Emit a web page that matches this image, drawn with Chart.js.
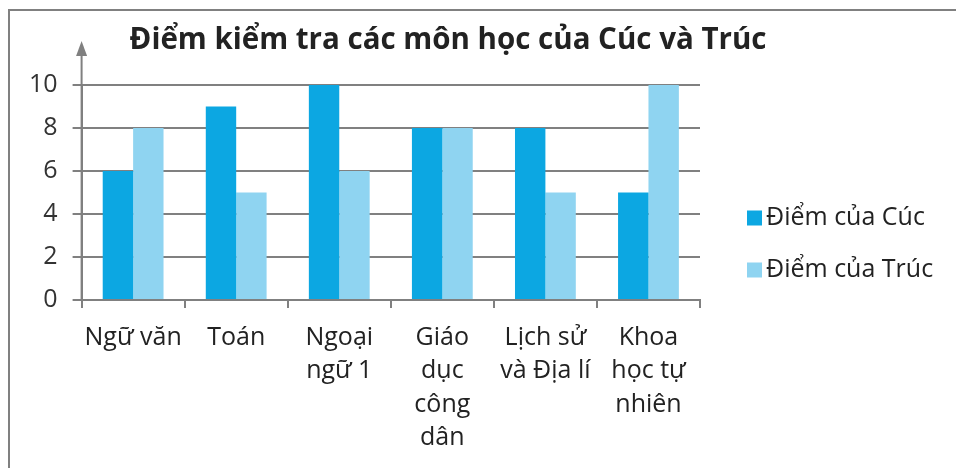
<!DOCTYPE html>
<html>
<head>
<meta charset="utf-8">
<script src="https://cdn.jsdelivr.net/npm/chart.js@4.4.1/dist/chart.umd.min.js"></script>
<style>
  html, body { margin: 0; padding: 0; background: #fff; }
  #wrap { width: 956px; height: 468px; position: relative; }
</style>
</head>
<body>
<div id="wrap"><canvas id="chart" width="956" height="468"></canvas></div>
<script>
const subjects = [
    ['Ngữ văn'],
    ['Toán'],
    ['Ngoại', 'ngữ 1'],
    ['Giáo', 'dục', 'công', 'dân'],
    ['Lịch sử', 'và Địa lí'],
    ['Khoa', 'học tự', 'nhiên']
];
const cucScores = [6, 9, 10, 8, 8, 5];
const trucScores = [8, 5, 6, 8, 5, 10];
const yTicks = [0, 2, 4, 6, 8, 10];
const chartTitle = 'Điểm kiểm tra các môn học của Cúc và Trúc';

const axisGray = '#808080';
const fontFamily = "'Open Sans', 'Noto Sans', sans-serif";

// frame, y-axis arrow, title and legend
const decorPlugin = {
    id: 'decor',
    beforeDraw(chart) {
        const ctx = chart.ctx;
        ctx.save();
        ctx.strokeStyle = axisGray;
        ctx.lineWidth = 2;
        ctx.beginPath();
        ctx.moveTo(9, chart.height);
        ctx.lineTo(9, 10);
        ctx.lineTo(chart.width, 10);
        ctx.stroke();
        ctx.restore();
    },
    afterDraw(chart) {
        const ctx = chart.ctx;
        const y = chart.scales.y;
        const x = y.right;
        ctx.save();
        ctx.strokeStyle = axisGray;
        ctx.fillStyle = axisGray;
        ctx.lineWidth = 2;
        ctx.beginPath();
        ctx.moveTo(x, y.bottom);
        ctx.lineTo(x, 52);
        ctx.stroke();
        ctx.beginPath();
        ctx.moveTo(x, 41);
        ctx.lineTo(x - 5.5, 56);
        ctx.lineTo(x + 5.5, 56);
        ctx.closePath();
        ctx.fill();

        // title
        ctx.fillStyle = '#222';
        ctx.font = 'bold 29.5px ' + fontFamily;
        ctx.textAlign = 'center';
        ctx.textBaseline = 'alphabetic';
        ctx.fillText(chartTitle, 448, 49);

        // legend
        ctx.font = '25px ' + fontFamily;
        ctx.textAlign = 'left';
        ctx.textBaseline = 'middle';
        chart.data.datasets.forEach((ds, i) => {
            const cy = 218 + i * 52;
            ctx.fillStyle = ds.backgroundColor;
            ctx.fillRect(747, cy - 7.5, 15, 15);
            ctx.fillStyle = '#222';
            ctx.fillText(ds.label, 766, cy);
        });
        ctx.restore();
    }
};

new Chart(document.getElementById('chart'), {
    type: 'bar',
    data: {
        labels: subjects,
        datasets: [
            {
                label: 'Điểm của Cúc',
                data: cucScores,
                backgroundColor: '#0ca7e2'
            },
            {
                label: 'Điểm của Trúc',
                data: trucScores,
                backgroundColor: '#8fd4f1'
            }
        ]
    },
    options: {
        responsive: false,
        animation: false,
        layout: {
            padding: {
                top: 85,
                bottom: 0,
                left: 14,
                right: 256
            }
        },
        datasets: {
            bar: {
                categoryPercentage: 0.59,
                barPercentage: 1.0
            }
        },
        scales: {
            x: {
                grid: {
                    offset: true,
                    drawOnChartArea: false,
                    drawTicks: true,
                    tickLength: 8,
                    color: axisGray,
                    lineWidth: 2
                },
                border: {
                    color: axisGray,
                    width: 2
                },
                ticks: {
                    color: '#222',
                    padding: 13,
                    maxRotation: 0,
                    autoSkip: false,
                    font: { family: fontFamily, size: 25, lineHeight: 1.34 }
                }
            },
            y: {
                min: 0,
                max: 10,
                afterBuildTicks(scale) {
                    scale.ticks = yTicks.map(v => ({ value: v }));
                },
                grid: {
                    color: axisGray,
                    lineWidth: 2,
                    tickLength: 9
                },
                border: {
                    color: axisGray,
                    width: 2
                },
                ticks: {
                    color: '#333',
                    padding: 15,
                    font: { family: fontFamily, size: 25 }
                }
            }
        },
        plugins: {
            title: {
                display: false
            },
            legend: {
                display: false
            },
            tooltip: {
                enabled: false
            }
        }
    },
    plugins: [decorPlugin]
});
</script>
</body>
</html>
